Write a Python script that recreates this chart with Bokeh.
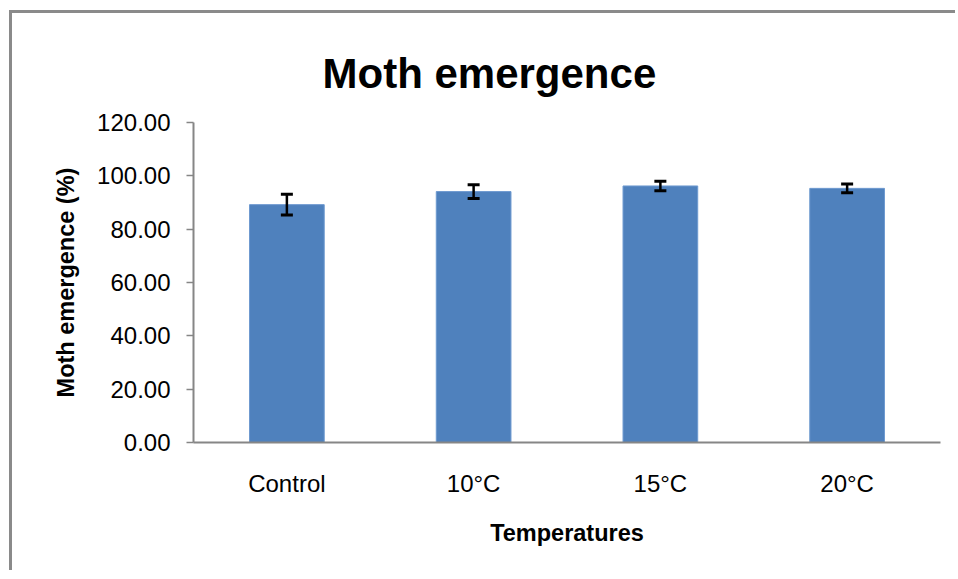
from bokeh.plotting import figure
from bokeh.models import ColumnDataSource, Range1d, FactorRange, Whisker, TeeHead, FixedTicker, NumeralTickFormatter
from bokeh.embed import file_html
from bokeh.resources import INLINE

categories = ["Control", "10°C", "15°C", "20°C"]
means = [89.2, 94.1, 96.2, 95.3]
errors = [3.9, 2.6, 1.8, 1.6]
y_ticks = [0, 20, 40, 60, 80, 100, 120]

src = ColumnDataSource(dict(
    cat=categories,
    mean=means,
    upper=[m + e for m, e in zip(means, errors)],
    lower=[m - e for m, e in zip(means, errors)],
))

FONT = "Liberation Sans"
p = figure(width=946, height=560, output_backend="svg", toolbar_location=None,
           x_range=FactorRange(*categories, range_padding=0), y_range=Range1d(0, 120),
           min_border_left=181, min_border_right=18, min_border_top=109, min_border_bottom=131,
           styles={"margin-left": "12px", "margin-top": "13px",
                   "box-shadow": "-3px -3px 0px 0px #8a8a8a"})

p.title.text = "Moth emergence"
p.title.align = "left"
p.title.text_font = FONT
p.title.text_font_size = "42px"
p.title.text_font_style = "bold"
p.title.text_color = "black"
p.title.standoff = 52
p.title.offset = 129

p.vbar(x="cat", top="mean", width=0.4, source=src, fill_color="#4F81BD", line_color="#6E9AD0", line_width=1)
w = Whisker(base="cat", upper="upper", lower="lower", source=src, line_color="black", line_width=2.5,
            level="overlay",
            upper_head=TeeHead(size=12, line_width=3, line_color="black"),
            lower_head=TeeHead(size=12, line_width=3, line_color="black"))
p.add_layout(w)

p.xgrid.visible = False
p.ygrid.visible = False
p.outline_line_color = None

p.yaxis.ticker = FixedTicker(ticks=y_ticks)
p.yaxis.formatter = NumeralTickFormatter(format="0.00")
p.yaxis.minor_tick_line_color = None
p.yaxis.major_tick_in = 0
p.yaxis.major_tick_out = 7
p.yaxis.major_label_standoff = 16
p.yaxis.axis_label = "Moth emergence (%)"
p.yaxis.axis_label_standoff = 15

p.xaxis.major_tick_line_color = None
p.xaxis.minor_tick_line_color = None
p.xaxis.major_label_standoff = 21
p.xaxis.axis_label = "Temperatures"
p.xaxis.axis_label_standoff = 20

for ax in (p.xaxis, p.yaxis):
    ax.axis_line_color = "#868686"
    ax.axis_line_width = 2
    ax.major_tick_line_width = 1.5
    ax.major_label_text_font = FONT
    ax.major_label_text_font_size = "24px"
    ax.major_label_text_color = "black"
    ax.axis_label_text_font = FONT
    ax.axis_label_text_font_style = "bold"
    ax.axis_label_text_color = "black"

p.yaxis.major_tick_line_color = "#868686"
p.xaxis.major_tick_line_color = None
p.yaxis.axis_label_text_font_size = "23.5px"
p.xaxis.axis_label_text_font_size = "23.5px"

open("out.html", "w").write(file_html(p, INLINE))
